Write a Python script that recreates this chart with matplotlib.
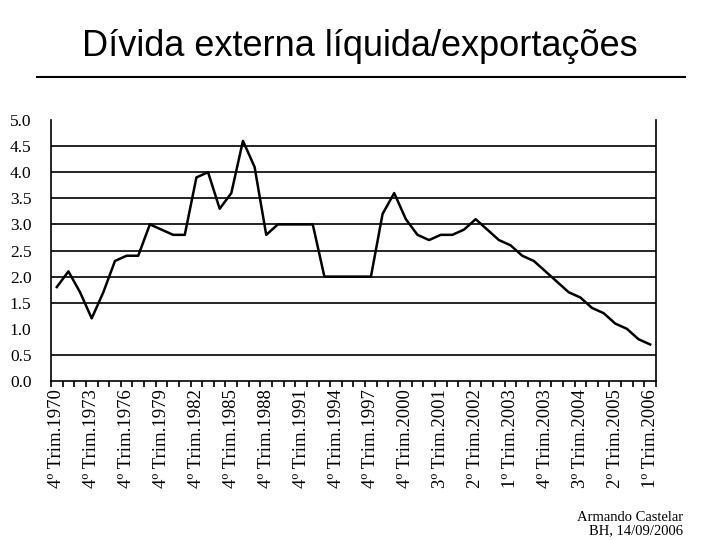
import matplotlib
matplotlib.use('Agg')
import matplotlib.pyplot as plt
from matplotlib.lines import Line2D

# periodos: anual (4o trim.) ate 2000, depois trimestral
periodos = ['4º Trim.%d' % a for a in range(1970, 2001)]
for ano in range(2001, 2007):
    for q in range(1, 5):
        if ano == 2006 and q > 1:
            break
        periodos.append('%dº Trim.%d' % (q, ano))

valores = [1.8, 2.1, 1.7, 1.2, 1.7, 2.3, 2.4, 2.4, 3.0, 2.9,
           2.8, 2.8, 3.9, 4.0, 3.3, 3.6, 4.6, 4.1, 2.8, 3.0,
           3.0, 3.0, 3.0, 2.0, 2.0, 2.0, 2.0, 2.0, 3.2, 3.6,
           3.1, 2.8, 2.7, 2.8, 2.8, 2.9, 3.1, 2.9, 2.7, 2.6,
           2.4, 2.3, 2.1, 1.9, 1.7, 1.6, 1.4, 1.3, 1.1, 1.0,
           0.8, 0.7]

grade = [0.5, 1.5, 2.0, 2.5, 3.0, 3.5, 4.0, 4.5]
yticks = [0.0, 0.5, 1.0, 1.5, 2.0, 2.5, 3.0, 3.5, 4.0, 4.5, 5.0]

serif = ['Liberation Serif', 'DejaVu Serif']

fig = plt.figure(figsize=(7.2, 5.4), dpi=100)
ax = fig.add_axes([0.0708, 0.2944, 0.8403, 0.4834])

x = list(range(len(valores)))
for g in grade:
    ax.axhline(g, color='black', lw=1.2, zorder=1)
ax.plot(x, valores, color='black', lw=1.8, zorder=3)

ax.set_xlim(-0.5, len(valores) - 0.5)
ax.set_ylim(0, 5)
ax.set_yticks(yticks)
ax.set_yticklabels(['%.1f' % v for v in yticks], fontfamily=serif, fontsize=12.5)
ax.tick_params(axis='y', length=0, pad=14)

# marcas nas fronteiras das categorias, rotulos a cada 3
ax.set_xticks([i - 0.5 for i in range(len(valores) + 1)], minor=True)
ax.set_xticks(x[::3])
ax.set_xticklabels(periodos[::3], rotation=90, fontfamily=serif, fontsize=13.5)
ax.tick_params(axis='x', which='major', length=0, pad=6)
ax.tick_params(axis='x', which='minor', length=4, width=1.2, direction='out')

ax.spines['top'].set_visible(False)
for s in ['left', 'right', 'bottom']:
    ax.spines[s].set_linewidth(1.2)

fig.text(0.5, 0.913, 'Dívida externa líquida/exportações', ha='center', va='center',
         fontfamily='Liberation Sans', fontsize=26)
fig.add_artist(Line2D([0.051, 0.951], [0.857, 0.857], color='black', lw=1.5,
                      transform=fig.transFigure))
fig.text(0.949, 0.030, 'Armando Castelar\nBH, 14/09/2006', ha='right', va='center',
         fontfamily=serif, fontsize=10.5, linespacing=1.05)

fig.savefig('out.png', dpi=100)
